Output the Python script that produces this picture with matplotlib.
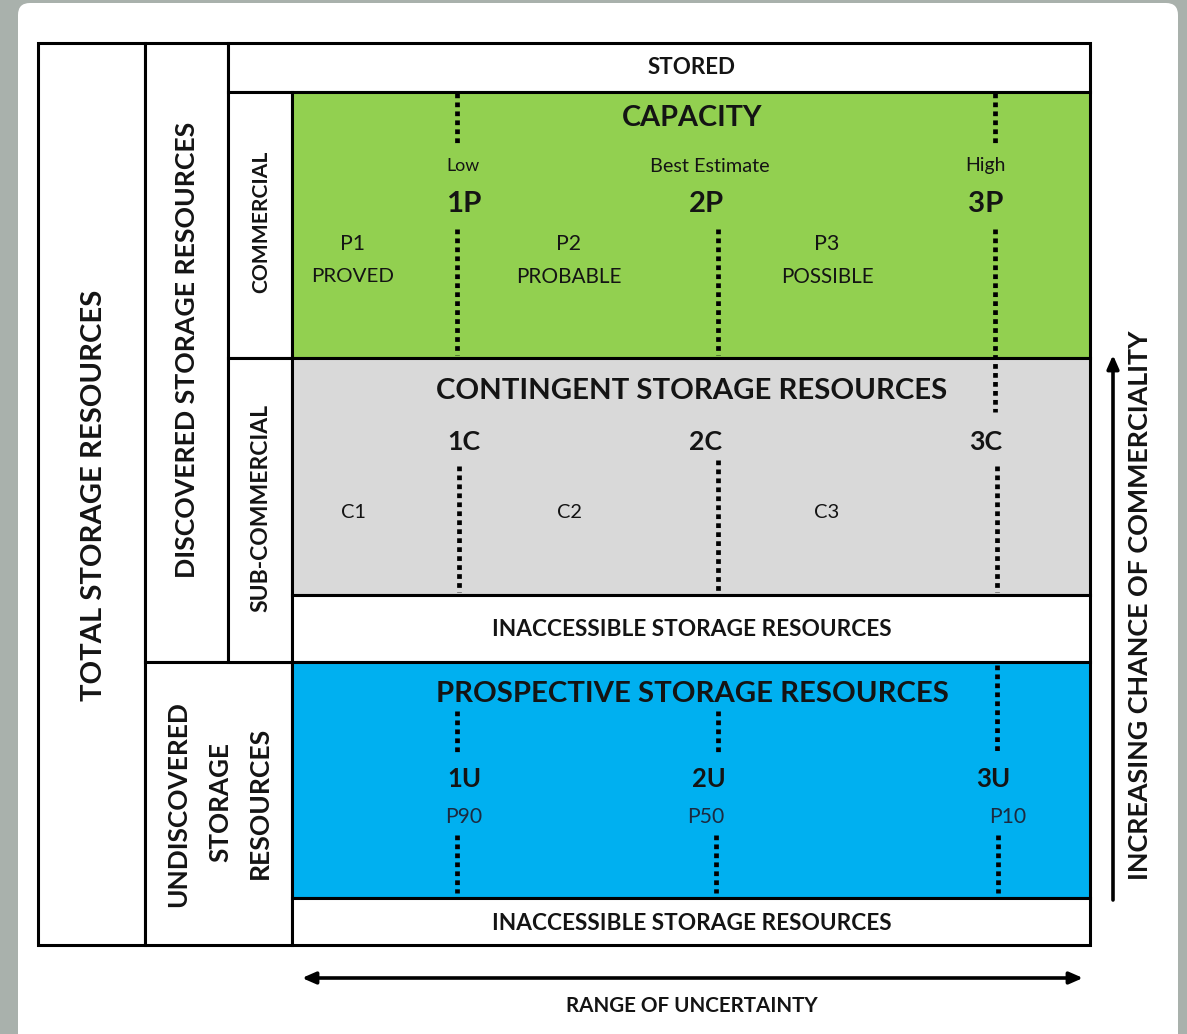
import matplotlib
matplotlib.use("Agg")
import matplotlib.pyplot as plt
from matplotlib.patches import Rectangle, FancyBboxPatch

# ---------------- data (labels) ----------------
row_titles = ["STORED", "CAPACITY", "CONTINGENT STORAGE RESOURCES",
              "INACCESSIBLE STORAGE RESOURCES", "PROSPECTIVE STORAGE RESOURCES",
              "INACCESSIBLE STORAGE RESOURCES"]
capacity_levels = ["Low", "Best Estimate", "High"]
capacity_codes = ["1P", "2P", "3P"]
capacity_classes = ["P1", "P2", "P3"]
capacity_class_names = ["PROVED", "PROBABLE", "POSSIBLE"]
contingent_codes = ["1C", "2C", "3C"]
contingent_classes = ["C1", "C2", "C3"]
prospective_codes = ["1U", "2U", "3U"]
prospective_probs = ["P90", "P50", "P10"]
side_labels = ["TOTAL STORAGE RESOURCES", "DISCOVERED STORAGE RESOURCES",
               "COMMERCIAL", "SUB-COMMERCIAL",
               "UNDISCOVERED", "STORAGE", "RESOURCES"]
axis_labels = ["INCREASING CHANCE OF COMMERCIALITY", "RANGE OF UNCERTAINTY"]

# ---------------- figure ----------------
W, H = 1187, 1034
fig = plt.figure(figsize=(W / 100, H / 100), dpi=100)
fig.patch.set_facecolor("#a9b1ac")
ax = fig.add_axes([0, 0, 1, 1])
ax.set_xlim(0, W)
ax.set_ylim(H, 0)
ax.axis("off")
renderer = fig.canvas.get_renderer()

FONT = "Lato"
TXT = "#141414"
LW = 2.2
GREEN, GREY, BLUE = "#92d050", "#d9d9d9", "#00b0f0"

ax.add_patch(FancyBboxPatch((18, 3), 1160, 1060, boxstyle="round,pad=0,rounding_size=12",
                            facecolor="white", edgecolor="none", zorder=0))


def box(x0, y0, x1, y1, fc="white"):
    ax.add_patch(Rectangle((x0, y0), x1 - x0, y1 - y0, facecolor=fc,
                           edgecolor="black", linewidth=LW, zorder=1))


def fit(x, y, s, w, rot=0, bold=True, color=TXT):
    t = ax.text(x, y, s, fontsize=10, rotation=rot, ha="center", va="center",
                family=FONT, fontweight="bold" if bold else "normal", color=color,
                zorder=5)
    bb = t.get_window_extent(renderer)
    ext = bb.height if rot else bb.width
    t.set_fontsize(10 * w / ext)
    return t


def dots(x, y0, y1):
    ax.plot([x, x], [y0, y1], color="black", linewidth=3.4,
            linestyle=(0, (1.0, 0.9)), dash_capstyle="butt", zorder=3)


# frame boxes
box(38, 43, 145, 945)
box(145, 43, 228, 662)
box(145, 662, 292, 945)
box(228, 43, 1090, 92)
box(228, 92, 292, 358)
box(228, 358, 292, 662)
box(292, 92, 1090, 358, GREEN)
box(292, 358, 1090, 595, GREY)
box(292, 595, 1090, 662)
box(292, 662, 1090, 898, BLUE)
box(292, 898, 1090, 945)

# row titles
fit(692, 67, row_titles[0], 88)
fit(692, 118, row_titles[1], 140)
fit(692, 391, row_titles[2], 511)
fit(692, 629, row_titles[3], 400)
fit(692, 694, row_titles[4], 513)
fit(692, 923, row_titles[5], 400)

# capacity
lvl_x = [463, 710, 985]
code_x = [464, 706, 986]
cls_x = [353, 569, 827]
for i in range(3):
    fit(lvl_x[i], 166, capacity_levels[i], [33, 120, 40][i], bold=False)
    fit(code_x[i], 204, capacity_codes[i], 35)
    fit(cls_x[i], 244, capacity_classes[i], 25, bold=False)
    fit(cls_x[i], 277, capacity_class_names[i], [82, 105, 92][i], bold=False)

# contingent
for i in range(3):
    fit([464, 705, 986][i], 442, contingent_codes[i], 33)
    fit(cls_x[i], 513, contingent_classes[i], 25, bold=False)

# prospective
for i in range(3):
    fit([464, 709, 993][i], 779, prospective_codes[i], 34)
    fit([464, 706, 1008][i], 817, prospective_probs[i], 37, bold=False, color="#1c2a40")

# dotted lines
dots(457, 93, 145); dots(457, 229, 355)
dots(718, 229, 355)
dots(995, 93, 145); dots(995, 229, 412)
dots(459, 466, 592); dots(718, 460, 592); dots(997, 466, 592)
dots(457, 711, 752); dots(718, 711, 755); dots(997, 665, 752)
dots(457, 835, 893); dots(716, 835, 893); dots(998, 835, 893)

# side labels
fit(94, 495, side_labels[0], 410, rot=90)
fit(187, 350, side_labels[1], 455, rot=90)
fit(261, 222, side_labels[2], 141, rot=90)
fit(261, 508, side_labels[3], 207, rot=90)
fit(178, 804, side_labels[4], 205, rot=90)
fit(220, 802, side_labels[5], 120, rot=90)
fit(260, 803, side_labels[6], 152, rot=90)

# arrows
ax.annotate("", xy=(1113, 355), xytext=(1113, 900),
            arrowprops=dict(arrowstyle="-|>,head_length=0.8,head_width=0.35",
                            color="black", lw=2.6, shrinkA=0, shrinkB=0), zorder=4)
fit(1140, 605, axis_labels[0], 550, rot=90)
ax.annotate("", xy=(302, 978), xytext=(1083, 978),
            arrowprops=dict(arrowstyle="<|-|>,head_length=0.8,head_width=0.35",
                            color="black", lw=2.6, shrinkA=0, shrinkB=0), zorder=4)
fit(692, 1006, axis_labels[1], 254)

fig.savefig("out.png", dpi=100, facecolor=fig.get_facecolor())
